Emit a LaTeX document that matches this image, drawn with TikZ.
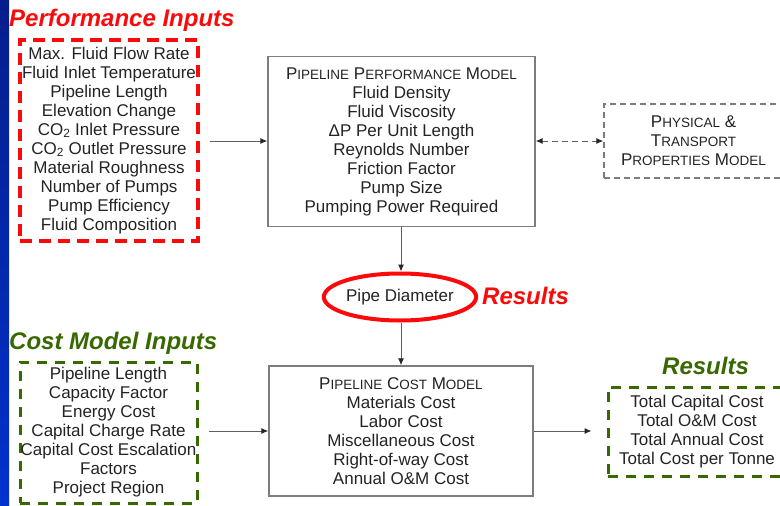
\documentclass[tikz,border=0pt]{standalone}
\usepackage{fontspec}
\setmainfont{Liberation Sans}
\usetikzlibrary{arrows.meta,shapes.geometric}

\definecolor{rojo}{RGB}{250,10,10}
\definecolor{verde}{RGB}{56,104,0}
\definecolor{gris}{RGB}{125,125,125}
\definecolor{texto}{RGB}{35,35,35}
\definecolor{azulA}{RGB}{5,30,140}
\definecolor{azulB}{RGB}{0,50,205}

% versalitas falsas: mayuscula grande + resto en mayusculas pequenas
\newcommand{\vers}[2]{#1{\fontsize{13.5}{19}\selectfont #2}}

\begin{document}
\begin{tikzpicture}[x=1pt,y=-1pt,
  every node/.style={font=\fontsize{17}{19}\selectfont, text=texto, align=center},
  titulo/.style={font=\fontsize{24}{28}\selectfont\bfseries\itshape, inner sep=0pt, anchor=base west},
  modelo/.style={draw=gris, line width=1.4pt, inner sep=0pt},
  entrada/.style={line width=3.5pt, dash pattern=on 12pt off 7pt, inner sep=0pt},
  punta/.tip={Latex[length=7pt,width=6pt,color=black!85]},
  flecha/.style={draw=gris!75!black, line width=1pt, -punta}]

  \useasboundingbox (0,0) rectangle (780,506);
  \clip (0,0) rectangle (780,506);

  % Barra azul a la izquierda
  \shade[top color=azulA, bottom color=azulB] (0,0) rectangle (9,506);

  % Entradas de rendimiento
  \node[titulo, text=rojo] (tituloent) at (9,26) {Performance Inputs};
  \node[entrada, draw=rojo, minimum width=178, minimum height=201] (entradas) at (109,140.5)
    {Max. Fluid Flow Rate\\Fluid Inlet Temperature\\Pipeline Length\\Elevation Change\\
     CO\textsubscript{2} Inlet Pressure\\CO\textsubscript{2} Outlet Pressure\\Material Roughness\\
     Number of Pumps\\Pump Efficiency\\Fluid Composition};

  % Modelo de rendimiento
  \node[modelo, minimum width=267, minimum height=170] (rendimiento) at (401.5,141.5)
    {\vers{P}{IPELINE} \vers{P}{ERFORMANCE} \vers{M}{ODEL}\\Fluid Density\\Fluid Viscosity\\
     ΔP Per Unit Length\\Reynolds Number\\Friction Factor\\Pump Size\\Pumping Power Required};

  % Modelo de propiedades
  \node[modelo, dash pattern=on 6pt off 4pt, minimum width=179, minimum height=74] (propiedades) at (693.5,141)
    {\vers{P}{HYSICAL} \&\\\vers{T}{RANSPORT}\\\vers{P}{ROPERTIES} \vers{M}{ODEL}};

  % Diametro del tubo
  \node[ellipse, draw=rojo, line width=4pt, minimum width=140, minimum height=47, inner sep=0pt] (diametro) at (400,297) {Pipe Diameter};
  \node[titulo, text=rojo] (resultadosA) at (482,304) {Results};

  % Entradas del modelo de costos
  \node[titulo, text=verde] (tituloins) at (9,349) {Cost Model Inputs};
  \node[entrada, draw=verde, line width=3pt, dash pattern=on 10pt off 8pt, minimum width=177, minimum height=141] (insumos) at (108.5,432.5)
    {Pipeline Length\\Capacity Factor\\Energy Cost\\Capital Charge Rate\\
     Capital Cost Escalation\\Factors\\Project Region};

  % Modelo de costos
  \node[modelo, minimum width=264, minimum height=130] (costos) at (401,431)
    {\vers{P}{IPELINE} \vers{C}{OST} \vers{M}{ODEL}\\Materials Cost\\Labor Cost\\
     Miscellaneous Cost\\Right-of-way Cost\\Annual O\&M Cost};

  % Resultados finales
  \node[titulo, text=verde] (resultadosB) at (662,374) {Results};
  \node[entrada, draw=verde, line width=3pt, dash pattern=on 10pt off 8pt, minimum width=178, minimum height=89] (resultados) at (697,431.5)
    {Total Capital Cost\\Total O\&M Cost\\Total Annual Cost\\Total Cost per Tonne};

  % Flechas
  \draw[flecha, shorten <=10pt] (entradas.east |- 0,141) -- (rendimiento.west |- 0,141);
  \draw[flecha, dash pattern=on 6pt off 4pt, punta-punta] (rendimiento.east |- 0,141) -- (propiedades.west |- 0,141);
  \draw[flecha] (rendimiento.south -| 401,0) -- (diametro.north -| 401,0);
  \draw[flecha] (diametro.south -| 401,0) -- (costos.north -| 401,0);
  \draw[flecha, shorten <=10pt] (insumos.east |- 0,431) -- (costos.west |- 0,431);
  \draw[flecha, shorten >=15pt] (costos.east |- 0,431) -- (resultados.west |- 0,431);
\end{tikzpicture}
\end{document}
